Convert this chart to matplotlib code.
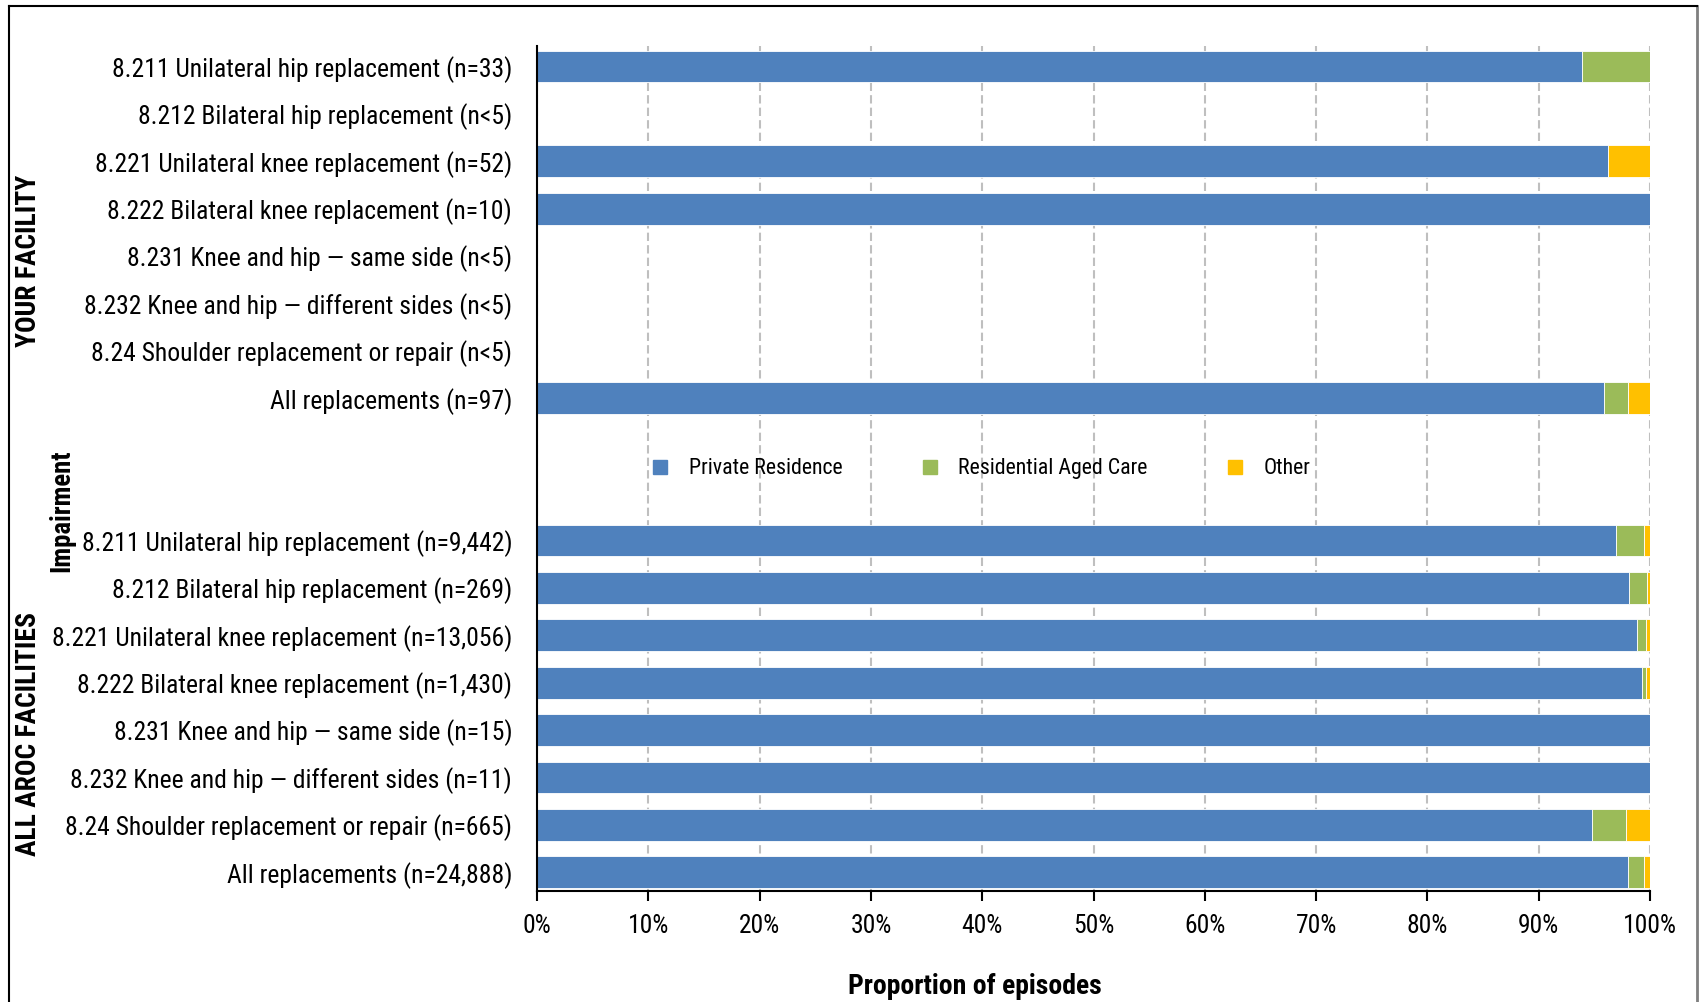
import numpy as np
import matplotlib.pyplot as plt
import matplotlib.font_manager as fm
from matplotlib.lines import Line2D

# rows from top to bottom; two blank rows in the middle hold the legend
labels = [
    "8.211 Unilateral hip replacement (n=33)",
    "8.212 Bilateral hip replacement (n<5)",
    "8.221 Unilateral knee replacement (n=52)",
    "8.222 Bilateral knee replacement (n=10)",
    "8.231 Knee and hip \u2014 same side (n<5)",
    "8.232 Knee and hip \u2014 different sides (n<5)",
    "8.24 Shoulder replacement or repair (n<5)",
    "All replacements (n=97)",
    "",
    "",
    "8.211 Unilateral hip replacement (n=9,442)",
    "8.212 Bilateral hip replacement (n=269)",
    "8.221 Unilateral knee replacement (n=13,056)",
    "8.222 Bilateral knee replacement (n=1,430)",
    "8.231 Knee and hip \u2014 same side (n=15)",
    "8.232 Knee and hip \u2014 different sides (n=11)",
    "8.24 Shoulder replacement or repair (n=665)",
    "All replacements (n=24,888)",
]

# proportions (%), 0 where no bar is shown
private_res = [93.9, 0, 96.2, 100, 0, 0, 0, 95.9, 0, 0,
               96.9, 98.1, 98.8, 99.3, 100, 100, 94.8, 98.0]
aged_care = [6.1, 0, 0, 0, 0, 0, 0, 2.1, 0, 0,
             2.6, 1.6, 0.8, 0.3, 0, 0, 3.0, 1.5]
other = [0, 0, 3.8, 0, 0, 0, 0, 2.0, 0, 0,
         0.5, 0.3, 0.4, 0.4, 0, 0, 2.2, 0.5]

series = ["Private Residence", "Residential Aged Care", "Other"]
colors = ["#4F81BD", "#9BBB59", "#FFC000"]


# look for a condensed sans font (Arial Narrow look), else plain Liberation Sans
def pick_font(bold):
    prefs = ['LiberationSansNarrow', 'RobotoCondensed', 'OpenSansCondensed',
             'OpenSans_Condensed', 'DejaVuSansCondensed', 'NotoSans-Condensed']
    files = [f.fname for f in fm.fontManager.ttflist]
    for p in prefs:
        for fn in files:
            base = fn.split('/')[-1]
            if not base.startswith(p) or 'Italic' in base or 'Oblique' in base:
                continue
            is_bold = 'Bold' in base and 'SemiBold' not in base and 'ExtraBold' not in base
            if bold == is_bold and (bold or base.split('.')[0].endswith(('Regular', 'Condensed', 'Narrow'))):
                return fm.FontProperties(fname=fn)
    return fm.FontProperties(family='Liberation Sans', weight='bold' if bold else 'normal')


reg = pick_font(False)
bld = pick_font(True)

fig = plt.figure(figsize=(17, 10.02), dpi=100)
fig.canvas.draw()
renderer = fig.canvas.get_renderer()


def sized(fp, text, width_px):
    # font size that makes text as wide as in the reference
    f = fp.copy()
    f.set_size(20)
    w, h, d = renderer.get_text_width_height_descent(text, f, ismath=False)
    f.set_size(20 * width_px / w)
    return f


tick_fp = sized(reg, "8.211 Unilateral hip replacement (n=33)", 399)
xt_fp = sized(reg, "100%", 54)
xl_fp = sized(bld, "Proportion of episodes", 254)
grp_fp = sized(bld, "YOUR FACILITY", 172)
imp_fp = sized(bld, "Impairment", 122)
leg_fp = sized(reg, "Private Residence", 154)

y = np.arange(len(labels))
ax = fig.add_axes([0.316, 0.111, 0.6546, 0.843])

left = np.zeros(len(labels))
for vals, col in zip([private_res, aged_care, other], colors):
    vals = np.array(vals)
    ax.barh(y, vals, left=left, height=0.67, color=col, edgecolor='white', linewidth=0.6)
    left += vals

ax.set_xlim(0, 100)
ax.set_ylim(len(labels) - 1 + 0.39, -0.43)
ax.set_xticks(np.arange(0, 101, 10))
ax.set_xticklabels([f"{v}%" for v in range(0, 101, 10)], fontproperties=xt_fp)
ax.set_yticks(y)
ax.set_yticklabels(labels, fontproperties=tick_fp)
ax.tick_params(axis='y', length=0, pad=18)
ax.tick_params(axis='x', length=7, width=1.5, direction='out', pad=10)
ax.xaxis.grid(True, color='#BFBFBF', linestyle=(0, (4, 2)), linewidth=1.5)
ax.set_axisbelow(True)
for s in ['top', 'right']:
    ax.spines[s].set_visible(False)
ax.spines['left'].set_linewidth(1.5)
ax.spines['bottom'].set_linewidth(1.5)

ax.set_xlabel("Proportion of episodes", fontproperties=xl_fp)
ax.xaxis.set_label_coords(0.3935, -0.097)

fig.text(0.017, 0.74, "YOUR FACILITY", rotation=90, ha='center', va='center',
         fontproperties=grp_fp)
fig.text(0.017, 0.267, "ALL AROC FACILITIES", rotation=90, ha='center', va='center',
         fontproperties=grp_fp)
fig.text(0.0365, 0.49, "Impairment", rotation=90, ha='center', va='center',
         fontproperties=imp_fp)

handles = [Line2D([], [], linestyle='none', marker='s', markersize=9.5,
                  markerfacecolor=c, markeredgecolor=c) for c in colors]
fig.legend(handles, series, loc='center', bbox_to_anchor=(0.577, 0.532), ncol=3,
           frameon=False, prop=leg_fp, handlelength=0.8, handletextpad=0.9,
           columnspacing=3.6)

# outer frame of the chart area
fig.add_artist(Line2D([0.005, 0.005], [0, 0.994], color='black', linewidth=1.5,
                      transform=fig.transFigure))
fig.add_artist(Line2D([0.9985, 0.9985], [0, 0.994], color='#7F7F7F', linewidth=2,
                      transform=fig.transFigure))
fig.add_artist(Line2D([0.005, 0.9985], [0.994, 0.994], color='black', linewidth=1.5,
                      transform=fig.transFigure))

fig.savefig("out.png", dpi=100)
